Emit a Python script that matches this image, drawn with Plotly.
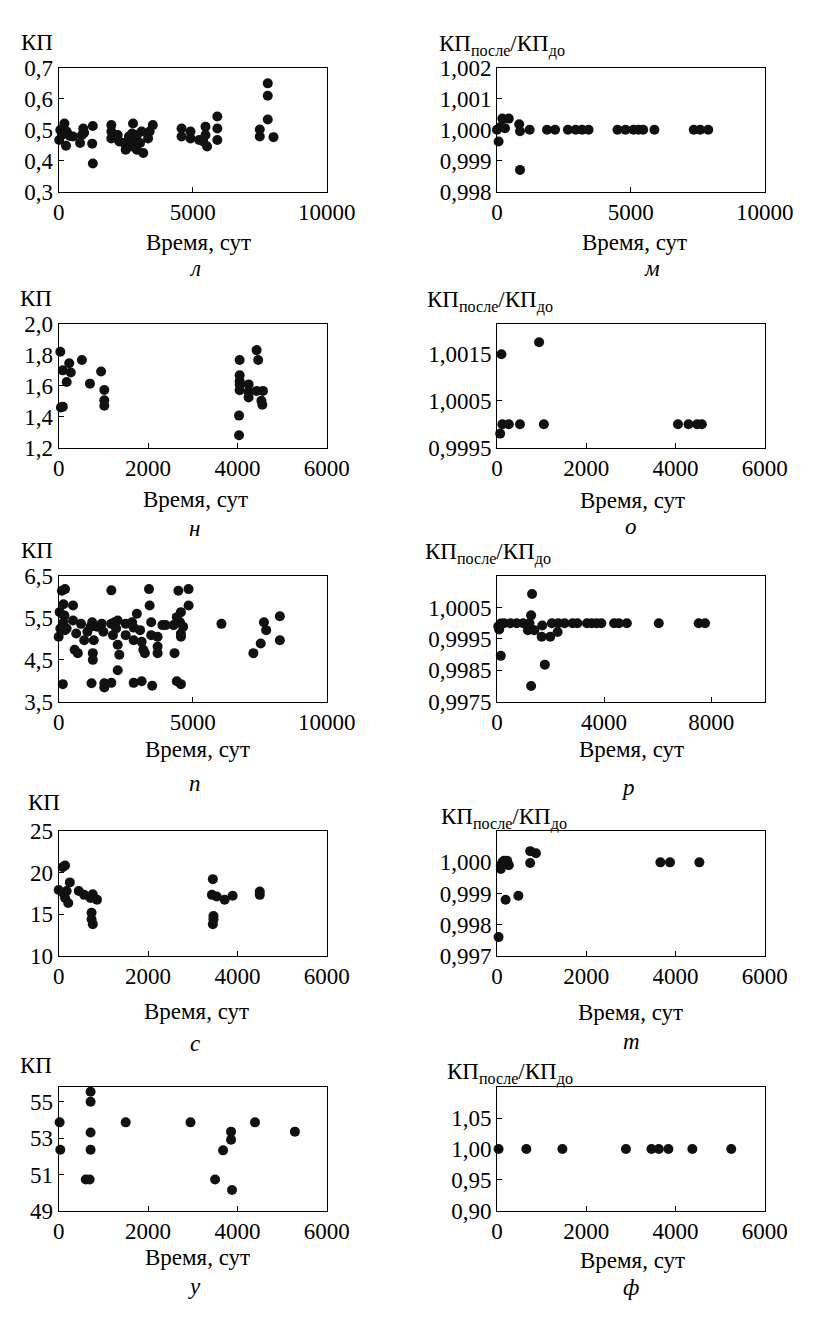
import plotly.graph_objects as go

W, H = 826, 1322

# ---------------- data ----------------
# л
l_x = [20, 60, 214, 120, 298, 417, 536, 274, 160, 917, 869, 798, 950,
       1274, 1250, 1274,
       1964, 1964, 1964, 2202, 2262, 2440, 2500, 2619, 2679, 2774, 2798, 2857,
       2917, 3036, 3095, 3155, 3333, 3393, 3512, 2738, 2560, 2917,
       4583, 4583, 4917, 4917,
       5238, 5476, 5476, 5536, 5393,
       5917, 5917, 5917,
       7500, 7500,
       7798, 7798, 7798, 8012]
l_y = [0.467, 0.499, 0.520, 0.483, 0.494, 0.480, 0.478, 0.448, 0.505, 0.504, 0.483, 0.457, 0.490,
       0.512, 0.455, 0.391,
       0.515, 0.494, 0.472, 0.483, 0.462, 0.457, 0.435, 0.478, 0.446, 0.520, 0.462, 0.472,
       0.435, 0.457, 0.494, 0.425, 0.472, 0.494, 0.515, 0.488, 0.462, 0.483,
       0.504, 0.478, 0.494, 0.472,
       0.467, 0.510, 0.483, 0.446, 0.462,
       0.543, 0.504, 0.467,
       0.501, 0.478,
       0.650, 0.610, 0.533, 0.476]

# м
m_x = [0, 60, 150, 200, 300, 440, 830, 860, 860, 1220,
       1870, 2170, 2650, 2940, 3180, 3420,
       4500, 4800, 5100, 5280, 5460, 5880,
       7350, 7590, 7890]
m_y = [1.0000, 0.99962, 1.0001, 1.00036, 1.00005, 1.00036, 1.00018, 0.99995, 0.99870, 1.0000,
       1.0000, 1.0000, 1.0000, 1.0000, 1.0000, 1.0000,
       1.0000, 1.0000, 1.0000, 1.0000, 1.0000, 1.0000,
       1.0000, 1.0000, 1.0000]

# н
n_x = [36, 50, 93, 93, 179, 236, 271, 521, 700, 950, 1021, 1021, 1021,
       4050, 4050, 4050, 4050, 4050, 4036, 4036, 4250, 4250, 4250,
       4429, 4464, 4429, 4571, 4536, 4557]
n_y = [1.82, 1.46, 1.465, 1.70, 1.625, 1.746, 1.686, 1.767, 1.614, 1.693, 1.573, 1.507, 1.471,
       1.767, 1.668, 1.630, 1.609, 1.571, 1.407, 1.280, 1.609, 1.562, 1.524,
       1.831, 1.767, 1.567, 1.567, 1.503, 1.477]

# о
o_x = [72, 100, 122, 265, 515, 944, 1051, 4056, 4292, 4485, 4592]
o_y = [0.99980, 1.00150, 1.00000, 1.00000, 1.00000, 1.00176, 1.00000,
       1.00000, 1.00000, 1.00000, 1.00000]

# п
p_x = [0, 36, 119, 238, 179, 179, 60, 238, 298, 214, 155, 536, 536, 595, 714, 655,
       833, 952, 1071, 1190, 1250, 1310, 1274, 1274, 1226, 1429, 1607, 1667, 1702, 1702,
       1964, 1964, 1964, 2024, 2083, 2143, 2202, 2202, 2262, 2202, 2500, 2500, 2738, 2798,
       2798, 2917, 3036, 2798, 3095, 3095, 3155, 3214, 3369, 3393, 3452, 3452, 3488, 3690,
       3690, 3690, 3869, 3988, 4286, 4321, 4405, 4464, 4524, 4560, 4560, 4560, 4405, 4560,
       4845, 4845, 4643, 6071, 7262, 7536, 7655, 7738, 8250, 8250]
p_y = [5.05, 5.64, 6.15, 6.19, 5.83, 5.40, 5.25, 5.21, 5.25, 5.56, 3.92, 5.80, 5.44, 4.74, 4.66, 5.13,
       5.36, 4.97, 5.17, 5.29, 5.40, 4.97, 4.66, 4.50, 3.94, 5.29, 5.36, 5.17, 3.94, 3.84,
       6.16, 3.95, 5.36, 5.09, 5.40, 5.25, 5.44, 4.86, 4.62, 4.25, 5.36, 5.09, 5.40, 5.27,
       4.97, 5.60, 5.21, 3.95, 3.99, 4.93, 4.74, 4.66, 6.19, 5.80, 5.40, 5.09, 3.88, 5.05,
       4.82, 4.66, 5.33, 5.33, 5.33, 4.66, 5.52, 6.15, 5.40, 5.64, 5.13, 5.05, 3.99, 3.92,
       6.19, 5.80, 5.29, 5.36, 4.66, 4.89, 5.40, 5.21, 5.54, 4.97]

# р
r_x = [48, 83, 143, 262, 143, 500, 739, 977, 1156, 1275, 1311, 1275, 1216, 1395, 1669,
       1692, 1788, 1990, 2265, 2050, 2288, 2527, 2825, 3004, 3361, 3540, 3719, 3898,
       4374, 4553, 4851, 6043, 7533, 7771]
r_y = [0.99990, 0.99980, 0.99999, 1.00000, 0.99896, 1.00000, 1.00000, 1.00000, 0.99978,
       1.00025, 1.00093, 0.99800, 1.00000, 0.99978, 0.99957, 0.99993, 0.99868, 0.99957,
       0.99972, 1.00000, 1.00000, 1.00000, 1.00000, 1.00000, 1.00000, 1.00000, 1.00000,
       1.00000, 1.00000, 1.00000, 1.00000, 1.00000, 1.00000, 1.00000]

# с
s_x = [0, 93, 143, 107, 143, 179, 214, 250, 450, 571, 714, 764, 857, 736, 736, 764,
       3450, 3429, 3464, 3464, 3450, 3536, 3714, 3893, 4500, 4500]
s_y = [17.93, 20.68, 20.88, 17.54, 16.95, 17.81, 16.36, 18.84, 17.81, 17.34, 16.95, 17.42,
       16.76, 15.18, 14.40, 13.81,
       19.23, 17.34, 14.79, 14.40, 13.81, 17.15, 16.76, 17.23, 17.74, 17.34]

# т
t_x = [36, 86, 122, 157, 229, 265, 193, 86, 479, 744, 744, 873, 3662, 3877, 4535]
t_y = [0.99760, 0.99990, 1.00000, 1.00005, 1.00005, 0.99991, 0.99880, 0.99979, 0.99893,
       0.99998, 1.00036, 1.00029, 1.00000, 1.00000, 1.00000]

# у
u_x = [21, 36, 714, 714, 714, 714, 607, 693, 1500, 2950, 3500, 3679, 3857, 3857, 3879,
       4393, 5286]
u_y = [53.87, 52.36, 55.55, 55.00, 53.31, 52.36, 50.73, 50.73, 53.87, 53.87, 50.73, 52.33,
       53.36, 52.91, 50.15, 53.87, 53.36]

# ф
f_x = [36, 658, 1466, 2890, 3462, 3627, 3841, 4378, 5250]
f_y = [1.00, 1.00, 1.00, 1.00, 1.00, 1.00, 1.00, 1.00, 1.00]

# ticks
x10k_vals = [0, 5000, 10000]
x10k_text = ["0", "5000", "10000"]
x6k_vals = [0, 2000, 4000, 6000]
x6k_text = ["0", "2000", "4000", "6000"]
x8k_vals = [0, 4000, 8000]
x8k_text = ["0", "4000", "8000"]

l_yt = [0.3, 0.4, 0.5, 0.6, 0.7]
l_ytxt = ["0,3", "0,4", "0,5", "0,6", "0,7"]
m_yt = [0.998, 0.999, 1.000, 1.001, 1.002]
m_ytxt = ["0,998", "0,999", "1,000", "1,001", "1,002"]
n_yt = [1.2, 1.4, 1.6, 1.8, 2.0]
n_ytxt = ["1,2", "1,4", "1,6", "1,8", "2,0"]
o_yt = [0.9995, 1.0005, 1.0015]
o_ytxt = ["0,9995", "1,0005", "1,0015"]
p_yt = [3.5, 4.5, 5.5, 6.5]
p_ytxt = ["3,5", "4,5", "5,5", "6,5"]
r_yt = [0.9975, 0.9985, 0.9995, 1.0005]
r_ytxt = ["0,9975", "0,9985", "0,9995", "1,0005"]
s_yt = [10, 15, 20, 25]
s_ytxt = ["10", "15", "20", "25"]
t_yt = [0.997, 0.998, 0.999, 1.000]
t_ytxt = ["0,997", "0,998", "0,999", "1,000"]
u_yt = [49, 51, 53, 55]
u_ytxt = ["49", "51", "53", "55"]
f_yt = [0.90, 0.95, 1.00, 1.05]
f_ytxt = ["0,90", "0,95", "1,00", "1,05"]

KP = "КП"
KP_RATIO = "КП<sub>после</sub>/КП<sub>до</sub>"
X_TITLE = "Время, сут"
letters = ["л", "м", "н", "о", "п", "р", "с", "т", "у", "ф"]

# ---------------- layout geometry (pixels) ----------------
COLS = [(55, 335), (512.7, 792.3)]
ROWS = [(57, 183), (318, 444), (575, 703), (835, 962), (1096, 1222)]

panels = [
    dict(x=l_x, y=l_y, xr=[0, 10000], xt=x10k_vals, xtt=x10k_text, yr=[0.3, 0.7], yt=l_yt, ytt=l_ytxt,
         title=KP, tpos=(14, 31), xtpos=(201, 235), lpos=(197, 261)),
    dict(x=m_x, y=m_y, xr=[0, 10000], xt=x10k_vals, xtt=x10k_text, yr=[0.998, 1.002], yt=m_yt, ytt=m_ytxt,
         title=KP_RATIO, tpos=(450, 34), xtpos=(656, 235), lpos=(675, 261)),
    dict(x=n_x, y=n_y, xr=[0, 6000], xt=x6k_vals, xtt=x6k_text, yr=[1.2, 2.0], yt=n_yt, ytt=n_ytxt,
         title=KP, tpos=(13, 292), xtpos=(198, 497), lpos=(197, 526)),
    dict(x=o_x, y=o_y, xr=[0, 6000], xt=x6k_vals, xtt=x6k_text, yr=[0.9995, 1.00215], yt=o_yt, ytt=o_ytxt,
         title=KP_RATIO, tpos=(438, 295), xtpos=(654, 498), lpos=(653, 524)),
    dict(x=p_x, y=p_y, xr=[0, 10000], xt=x10k_vals, xtt=x10k_text, yr=[3.5, 6.5], yt=p_yt, ytt=p_ytxt,
         title=KP, tpos=(14, 549), xtpos=(200, 752), lpos=(197, 786)),
    dict(x=r_x, y=r_y, xr=[0, 10000], xt=x8k_vals, xtt=x8k_text, yr=[0.9975, 1.0015], yt=r_yt, ytt=r_ytxt,
         title=KP_RATIO, tpos=(435, 552), xtpos=(653, 752), lpos=(650, 790)),
    dict(x=s_x, y=s_y, xr=[0, 6000], xt=x6k_vals, xtt=x6k_text, yr=[10, 25], yt=s_yt, ytt=s_ytxt,
         title=KP, tpos=(21, 806), xtpos=(199, 1019), lpos=(197, 1051)),
    dict(x=t_x, y=t_y, xr=[0, 6000], xt=x6k_vals, xtt=x6k_text, yr=[0.997, 1.001], yt=t_yt, ytt=t_ytxt,
         title=KP_RATIO, tpos=(452, 822), xtpos=(652, 1020), lpos=(653, 1049)),
    dict(x=u_x, y=u_y, xr=[0, 6000], xt=x6k_vals, xtt=x6k_text, yr=[49, 55.8], yt=u_yt, ytt=u_ytxt,
         title=KP, tpos=(13, 1074), xtpos=(200, 1269), lpos=(197, 1299)),
    dict(x=f_x, y=f_y, xr=[0, 6000], xt=x6k_vals, xtt=x6k_text, yr=[0.9, 1.1], yt=f_yt, ytt=f_ytxt,
         title=KP_RATIO, tpos=(458, 1082), xtpos=(654, 1273), lpos=(653, 1300)),
]

FONT = "Liberation Serif"
FS = 23

fig = go.Figure()
annotations = []
axes = {}
for i, p in enumerate(panels):
    n = "" if i == 0 else str(i + 1)
    col, row = i % 2, i // 2
    bx0, bx1 = COLS[col]
    by0, by1 = ROWS[row]
    fig.add_trace(go.Scatter(
        x=p["x"], y=p["y"], mode="markers", xaxis="x" + n, yaxis="y" + n,
        marker=dict(size=10, color="#111111"), cliponaxis=False,
        showlegend=False, hoverinfo="skip"))
    common = dict(ticks="inside", ticklen=5, tickwidth=1, tickcolor="black",
                  showline=True, linecolor="black", linewidth=1, mirror=True,
                  showgrid=False, zeroline=False, fixedrange=True,
                  tickfont=dict(family=FONT, size=FS, color="black"))
    axes["xaxis" + n] = dict(domain=[bx0 / W, bx1 / W], anchor="y" + n, range=p["xr"],
                             tickmode="array", tickvals=p["xt"], ticktext=p["xtt"], **common)
    axes["yaxis" + n] = dict(domain=[1 - by1 / H, 1 - by0 / H], anchor="x" + n, range=p["yr"],
                             tickmode="array", tickvals=p["yt"], ticktext=p["ytt"], **common)
    tx, ty = p["tpos"]
    annotations.append(dict(text=p["title"], x=tx / W, y=1 - ty / H, xref="paper", yref="paper",
                            xanchor="left", yanchor="middle", showarrow=False,
                            font=dict(family=FONT, size=FS, color="black")))
    xx, xy = p["xtpos"]
    annotations.append(dict(text=X_TITLE, x=xx / W, y=1 - xy / H, xref="paper", yref="paper",
                            xanchor="center", yanchor="middle", showarrow=False,
                            font=dict(family=FONT, size=FS, color="black")))
    lx, ly = p["lpos"]
    annotations.append(dict(text="<i>" + letters[i] + "</i>", x=lx / W, y=1 - ly / H,
                            xref="paper", yref="paper", xanchor="center", yanchor="middle",
                            showarrow=False, font=dict(family=FONT, size=FS, color="black")))

fig.update_layout(width=W, height=H, margin=dict(l=0, r=0, t=0, b=0, pad=0),
                  paper_bgcolor="white", plot_bgcolor="white",
                  font=dict(family=FONT, size=FS, color="black"),
                  annotations=annotations, **axes)

fig.write_html("out.html", config={"displayModeBar": False},
               post_script="document.body.style.margin='0';document.body.style.overflow='hidden';")
